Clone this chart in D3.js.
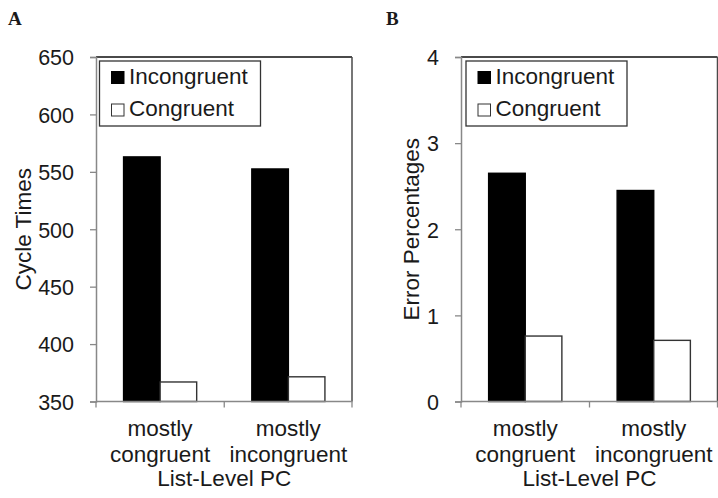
<!DOCTYPE html>
<html><head><meta charset="utf-8">
<script src="https://cdn.jsdelivr.net/npm/d3@7"></script>
<style>
html,body{margin:0;padding:0;background:#fff;}
svg{display:block;}
text{font-family:"Liberation Sans",Arial,sans-serif;fill:#1a1a1a;}
</style></head>
<body>
<svg id="chart" width="718" height="498"></svg>
<script>
const categories = ["mostly congruent", "mostly incongruent"];
const categoryLines = [["mostly","congruent"],["mostly","incongruent"]];
const seriesNames = ["Incongruent", "Congruent"];
const cycleIncongruent = [563, 552.5];
const cycleCongruent = [367, 371.5];
const errorIncongruent = [2.65, 2.45];
const errorCongruent = [0.76, 0.71];
const cycleTicks = [350, 400, 450, 500, 550, 600, 650];
const errorTicks = [0, 1, 2, 3, 4];
const xTitle = "List-Level PC";

const svg = d3.select("#chart");
const FS = 21.5;   // tick numbers
const FL = 22.5;   // word labels

function panel(cfg){
  const g = svg.append("g");
  const {left, right, top, bottom} = cfg;
  const y = d3.scaleLinear().domain(cfg.domain).range([bottom, top]);
  const x0 = d3.scaleBand().domain(categories).range([left, right]).paddingInner(0.43).paddingOuter(0.215);
  const x1 = d3.scaleBand().domain(seriesNames).range([0, x0.bandwidth()]).padding(0);
  const data = categories.map((c,i)=>({cat:c, vals:[{s:seriesNames[0], v:cfg.inc[i]},{s:seriesNames[1], v:cfg.con[i]}]}));

  // frame top & right
  g.append("line").attr("x1",left).attr("x2",right-0.5).attr("y1",top).attr("y2",top)
    .attr("stroke","#4a4a4a").attr("stroke-width",1.8);
  g.append("line").attr("x1",right-0.5).attr("x2",right-0.5).attr("y1",top).attr("y2",bottom)
    .attr("stroke","#4a4a4a").attr("stroke-width",1.5);

  // bars
  data.forEach(d=>{
    d.vals.forEach(b=>{
      g.append("rect")
        .attr("x", x0(d.cat)+x1(b.s))
        .attr("y", y(b.v))
        .attr("width", x1.bandwidth())
        .attr("height", bottom - y(b.v))
        .attr("fill", b.s===seriesNames[0] ? "#000" : "#fff")
        .attr("stroke", b.s===seriesNames[0] ? "#000" : "#333")
        .attr("stroke-width", 1.4);
    });
  });

  // y axis
  const ya = g.append("g").attr("transform",`translate(${left},0)`)
    .call(d3.axisLeft(y).tickValues(cfg.ticks).tickSize(6).tickPadding(16).tickFormat(d3.format("d")));
  ya.select(".domain").attr("stroke","#888").attr("stroke-width",1.5);
  ya.selectAll(".tick line").attr("stroke","#888").attr("stroke-width",1.3);
  ya.selectAll(".tick text").attr("font-size",FS).attr("fill","#1a1a1a").attr("dy","0.36em");

  // x axis with ticks at band boundaries
  const xa = g.append("g").attr("transform",`translate(0,${bottom})`);
  xa.append("line").attr("x1",left).attr("x2",right).attr("y1",0).attr("y2",0)
    .attr("stroke","#888").attr("stroke-width",1.5);
  const bounds = [left, ...categories.slice(1).map(c=>x0(c) - x0.step()*x0.paddingInner()/2), right-0.5];
  bounds.forEach(bx=>{
    xa.append("line").attr("x1",bx).attr("x2",bx).attr("y1",0).attr("y2",6)
      .attr("stroke","#888").attr("stroke-width",1.3);
  });
  categories.forEach((c,i)=>{
    const cx = x0(c) + x0.bandwidth()/2;
    const t = xa.append("text").attr("text-anchor","middle").attr("font-size",FL);
    t.append("tspan").attr("x",cx).attr("y",34).text(categoryLines[i][0]);
    t.append("tspan").attr("x",cx).attr("y",60).text(categoryLines[i][1]);
  });
  xa.append("text").attr("x",(left+right)/2).attr("y",84).attr("text-anchor","middle")
    .attr("font-size",FL).text(xTitle);

  // y title
  g.append("text").attr("transform",`translate(${cfg.titleX},${(top+bottom)/2}) rotate(-90)`)
    .attr("text-anchor","middle").attr("font-size",FL).text(cfg.yTitle);

  // legend
  const lx = left + cfg.legDx, ly = top + 4;
  g.append("rect").attr("x",lx).attr("y",ly).attr("width",161).attr("height",65)
    .attr("fill","#fff").attr("stroke","#333").attr("stroke-width",1.3);
  seriesNames.forEach((s,i)=>{
    const by = ly + 22.5 + i*32.5;
    g.append("rect").attr("x",lx+12).attr("y",by-12).attr("width",12.5).attr("height",12)
      .attr("fill", i===0 ? "#000" : "#fff").attr("stroke", i===0?"#000":"#333").attr("stroke-width",1);
    g.append("text").attr("x",lx+29.5).attr("y",by).attr("font-size",FL).text(s);
  });

  // panel letter
  svg.append("text").attr("x",cfg.letterX).attr("y",25)
    .style("font-family","'Liberation Serif','Times New Roman',serif")
    .attr("font-weight","bold").attr("font-size",19).attr("fill","#111").text(cfg.letter);
}

panel({left:96, right:352.5, top:57, bottom:401.5, domain:[350,650], ticks:cycleTicks,
  inc:cycleIncongruent, con:cycleCongruent, yTitle:"Cycle Times", titleX:31, legDx:3.5, letter:"A", letterX:8});
panel({left:461, right:718, top:57, bottom:401.5, domain:[0,4], ticks:errorTicks,
  inc:errorIncongruent, con:errorCongruent, yTitle:"Error Percentages", titleX:419, legDx:5, letter:"B", letterX:386});
</script>
</body></html>
